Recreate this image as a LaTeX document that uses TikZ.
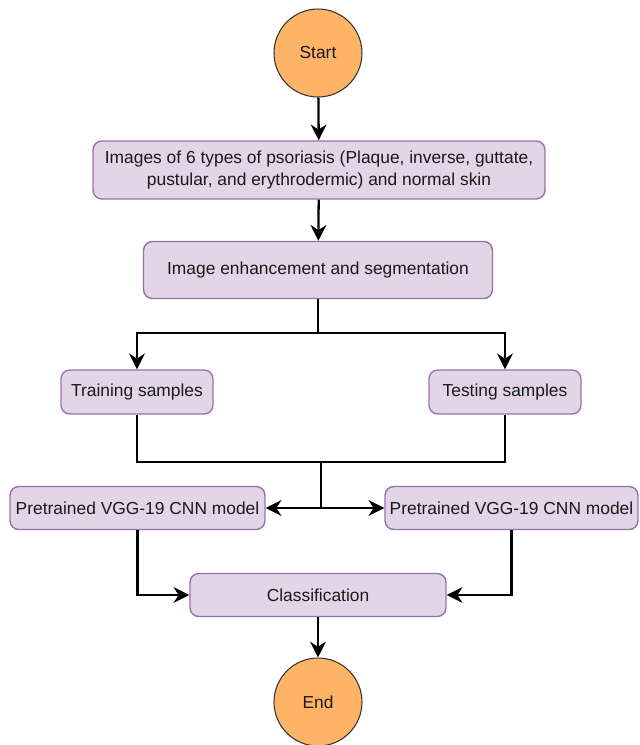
\documentclass[tikz,border=0pt]{standalone}
\usepackage{fontspec}
\setmainfont{Liberation Sans}
\usetikzlibrary{arrows.meta}

\definecolor{lilas}{HTML}{E1D5E7}
\definecolor{borda}{HTML}{9673A6}
\definecolor{laranja}{HTML}{FFB366}
\definecolor{texto}{HTML}{1A1A1A}
\tikzset{
  caixa/.style={draw=borda, fill=lilas, rounded corners=5pt, text=texto,
    line width=0.8pt, font=\fontsize{9.9}{13}\selectfont, align=center, inner sep=2pt},
  terminal/.style={circle, draw=black!80, fill=laranja, line width=0.6pt, text=texto,
    minimum size=1.76cm, inner sep=0pt, font=\fontsize{9.9}{12}\selectfont},
  seta/.style={line width=1.3pt, -{Stealth[length=9pt,width=9pt]}},
  linha/.style={line width=1.3pt}
}

\begin{document}
\begin{tikzpicture}[x=0.02cm,y=-0.02cm]
\useasboundingbox (0,0) rectangle (640,745);

% inicio e entrada
	\node[terminal] (start) at (318,53) {Start};
	\node[caixa, minimum width=9.04cm, minimum height=1.16cm] (imgs) at (319,170)
		{Images of 6 types of psoriasis (Plaque, inverse, guttate,\\pustular, and erythrodermic) and normal skin};
	\node[caixa, minimum width=6.98cm, minimum height=1.14cm] (enh) at (318,270)
		{Image enhancement and segmentation};

% amostras
	\node[caixa, minimum width=3.04cm, minimum height=0.88cm] (train) at (137,392) {Training samples};
	\node[caixa, minimum width=3.04cm, minimum height=0.88cm] (test) at (505,392) {Testing samples};

% modelos
	\node[caixa, minimum width=5.1cm, minimum height=0.86cm] (vggL) at (137.5,508) {Pretrained VGG-19 CNN model};
	\node[caixa, minimum width=5.06cm, minimum height=0.86cm] (vggR) at (511.5,508) {Pretrained VGG-19 CNN model};

% saida
	\node[caixa, minimum width=5.12cm, minimum height=0.86cm] (cls) at (318,595) {Classification};
	\node[terminal] (end) at (318,702) {End};

	\coordinate (split) at (318,333);
	\coordinate (join) at (321,462);
	\coordinate (fork) at (321,508);

% ligacoes
	\draw[seta] (start) -- (imgs);
	\draw[seta] (imgs) -- (enh);
	\draw[linha] (enh.south) -- (split);
	\draw[seta] (split) -| (train.north);
	\draw[seta] (split) -| (test.north);
	\draw[linha] (train.south) |- (join) -| (test.south);
	\draw[linha] (join) -- (fork);
	\draw[seta] (fork) -- (vggL.east);
	\draw[seta] (fork) -- (vggR.west);
	\draw[seta] (vggL.south) |- (cls.west);
	\draw[seta] (vggR.south) |- (cls.east);
	\draw[seta] (cls) -- (end);

\end{tikzpicture}
\end{document}
